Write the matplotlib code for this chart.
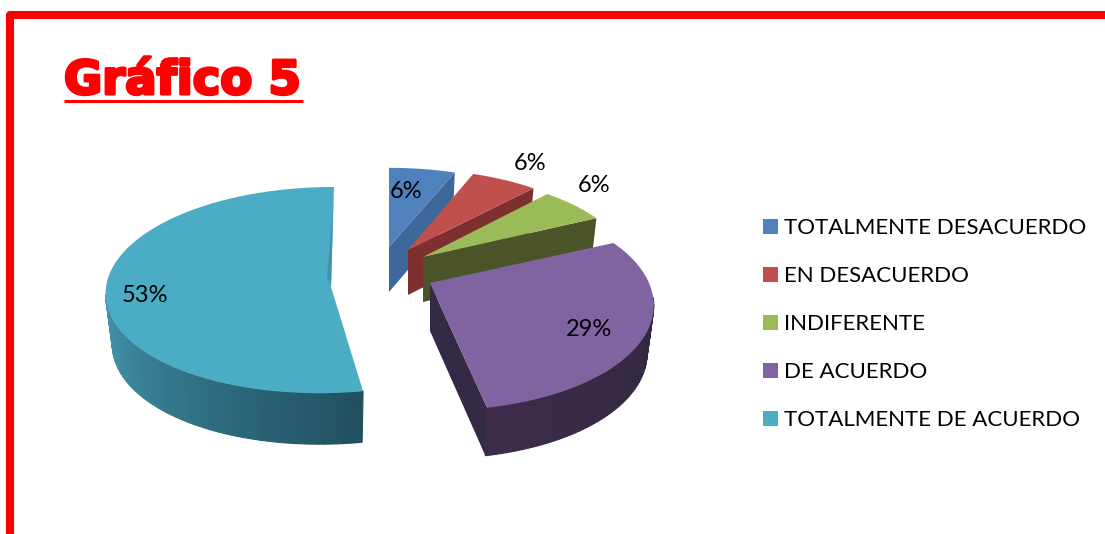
import numpy as np
import matplotlib
matplotlib.use('Agg')
import matplotlib.pyplot as plt
from matplotlib.patches import Patch, Polygon
import matplotlib.patheffects as pe
from matplotlib.colors import to_rgb

# datos
categorias = ['TOTALMENTE DESACUERDO', 'EN DESACUERDO', 'INDIFERENTE', 'DE ACUERDO', 'TOTALMENTE DE ACUERDO']
valores = [6, 6, 6, 29, 53]

# colores
color_top = ['#4F81BD', '#C0504D', '#9BBB59', '#8064A2', '#4BACC6']
color_lado = ['#3D6899', '#7F302E', '#4A5428', '#352A45', '#24525F']
color_borde_ini = ['#3D6899', '#7F302E', '#4A5428', '#3C2C4A', '#4597B0']
color_borde_fin = ['#3D6899', '#7F302E', '#4A5428', '#30283F', '#20505F']

# pastel 3D: vertice de cada porcion (explosion) y forma de la elipse, en pixeles
vertice_x = [389, 408, 423, 430, 331]
vertice_y = [247, 250, 257, 283, 287]
radio_a = [212, 210, 208, 219, 225]
radio_b = [95, 97, 99, 102, 103]
persp = [0.2, 0.2, 0.2, 0.2, 0.03]
corte1 = [0, 0, 0, 0, 7.15]
corte2 = [0, 0, 0, 5, -4.15]
altura = [45, 45, 45, 48, 51]

# posicion de las etiquetas
etq_x = [406, 530, 594, 589, 145]
etq_y = [192, 163, 186, 330, 295]

fig = plt.figure(figsize=(11.05, 5.34), dpi=100)
ax = fig.add_axes([0, 0, 1, 1])
ax.set_xlim(0, 1105)
ax.set_ylim(534, 0)
ax.axis('off')

# marco rojo
ax.plot([10, 10, 1120], [545, 15, 15], color='#FF0000', lw=5.8, solid_joinstyle='round', zorder=1)

# titulo
ax.text(64, 94, 'Gráfico 5', color='#FF0000', fontsize=33.5, fontweight='bold', family='DejaVu Sans',
        va='baseline', ha='left', path_effects=[pe.withStroke(linewidth=2.2, foreground='#FF0000')])
ax.plot([64, 303], [101, 101], color='#FF0000', lw=2.2, solid_capstyle='butt')


def punto(i, theta):
    # theta en grados, sentido horario desde arriba
    t = np.radians(theta)
    c = np.cos(t)
    w = 1 + persp[i] * c
    dx = (radio_a[i] * np.sin(t) + corte1[i] * c + corte2[i] * c * c) / w
    dy = -radio_b[i] * c / w
    return dx, dy


acum = np.cumsum([0] + valores) / sum(valores) * 360
for i in range(len(valores)):
    ini, fin = acum[i], acum[i + 1]
    x0, y0 = vertice_x[i], vertice_y[i]
    h = altura[i]

    # pared radial
    if i < 4:
        dx, dy = punto(i, fin)
        ax.add_patch(Polygon([(x0, y0), (x0 + dx, y0 + dy), (x0 + dx * 0.97, y0 + dy + h), (x0, y0 + h)],
                             color=color_lado[i], lw=0, zorder=2 + i))

    # pared exterior con degradado
    v_ini, v_fin = max(ini, 98), min(fin, 266)
    if v_fin > v_ini:
        th = np.linspace(v_fin, v_ini, 60)
        c0, c1 = np.array(to_rgb(color_borde_ini[i])), np.array(to_rgb(color_borde_fin[i]))
        for k in range(len(th) - 1):
            d1, e1 = punto(i, th[k])
            d2, e2 = punto(i, th[k + 1])
            f = k / (len(th) - 2)
            ax.add_patch(Polygon([(x0 + d1, y0 + e1), (x0 + d2, y0 + e2),
                                  (x0 + d2 * 0.97, y0 + e2 + h), (x0 + d1 * 0.97, y0 + e1 + h)],
                                 facecolor=c0 + (c1 - c0) * f, edgecolor=c0 + (c1 - c0) * f, lw=0.8, zorder=2 + i))

    # cara superior
    th = np.linspace(ini, fin, 120)
    dx, dy = punto(i, th)
    pts = [(x0, y0)] + list(zip(x0 + dx, y0 + dy))
    ax.add_patch(Polygon(pts, closed=True, color=color_top[i], lw=0, zorder=2 + i))

# pared interior visible de la porcion grande
dx, dy = punto(4, 360)
x0, y0 = vertice_x[4], vertice_y[4]
ax.add_patch(Polygon([(x0 + dx, y0 + dy), (x0 + dx - 1, y0 + dy + 23), (x0 - 4, y0 - 10), (x0, y0)],
                     color='#3F94AD', lw=0, zorder=7))

# etiquetas
for i in range(len(valores)):
    ax.text(etq_x[i], etq_y[i], f'{valores[i]}%', fontsize=17, family='Lato', color='black',
            ha='center', va='center', zorder=10)

# leyenda
handles = [Patch(facecolor=color_top[i], edgecolor='none', label=categorias[i]) for i in range(len(valores))]
ax.legend(handles=handles, loc='upper left', bbox_to_anchor=(763 / 1105, 1 - 218 / 534), frameon=False,
          prop={'family': 'Lato', 'size': 16}, handlelength=0.68, handleheight=0.68, handletextpad=0.27,
          labelspacing=1.26, borderpad=0, borderaxespad=0)

fig.savefig('out.png', dpi=100)
